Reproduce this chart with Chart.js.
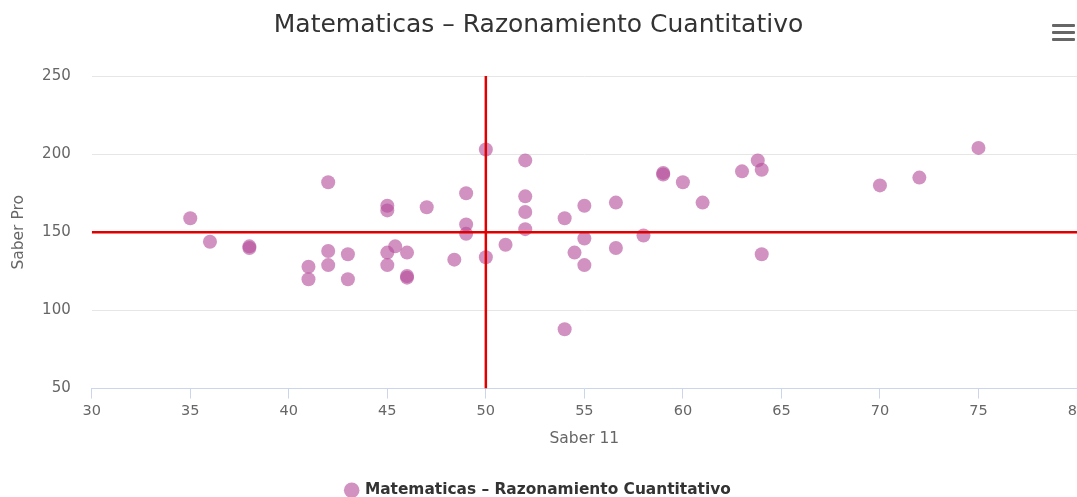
<!DOCTYPE html>
<html>
<head>
<meta charset="utf-8">
<script src="https://cdn.jsdelivr.net/npm/chart.js@4.4.0/dist/chart.umd.min.js"></script>
<style>
  html, body { margin: 0; padding: 0; background: #fff; overflow: hidden; }
  #wrap { position: relative; width: 1077px; height: 497px; overflow: hidden; }
  #menu { position: absolute; left: 1052px; top: 24px; width: 23px; }
  #menu span { display: block; height: 3px; background: #666; margin-bottom: 4px; border-radius: 1px; }
</style>
</head>
<body>
<div id="wrap">
  <canvas id="chart" width="1077" height="508"></canvas>
  <div id="menu"><span></span><span></span><span></span></div>
</div>
<script>
const seriesName = 'Matematicas \u2013 Razonamiento Cuantitativo';
const saber11 = [35, 36, 38, 38, 41, 41, 42, 42, 42, 43, 43, 45, 45, 45, 45.4, 45, 46, 46, 46, 47, 48.4, 49, 49, 49, 50, 50, 51, 52, 52, 52, 52, 54, 54, 55, 55, 54.5, 55, 56.6, 56.6, 58, 59, 59, 60, 61, 63, 63.8, 64, 64, 70, 72, 75];
const saberPro = [159, 144, 141, 140, 128, 120, 182, 138, 129, 136, 120, 167, 164, 137, 141, 129, 137, 122, 121, 166, 132.5, 175, 155, 149, 203, 134, 142, 196, 173, 163, 152, 159, 88, 167, 146, 137, 129, 169, 140, 148, 188, 187, 182, 169, 189, 196, 190, 136, 180, 185, 204];
const refX = 50;
const refY = 150;
const xRange = [30, 80];
const yRange = [50, 250];

const points = saber11.map((x, i) => ({ x: x, y: saberPro[i] }));
const font = "'DejaVu Sans', sans-serif";

const ctx = document.getElementById('chart').getContext('2d');
new Chart(ctx, {
  type: 'scatter',
  data: {
    datasets: [
      {
        label: 'vline',
        data: [{ x: refX, y: yRange[0] }, { x: refX, y: yRange[1] }],
        showLine: true, borderColor: '#e00000', borderWidth: 2.5, pointRadius: 0, order: 0
      },
      {
        label: 'hline',
        data: [{ x: xRange[0], y: refY }, { x: xRange[1], y: refY }],
        showLine: true, borderColor: '#e00000', borderWidth: 2.5, pointRadius: 0, order: 0
      },
      {
        label: seriesName,
        data: points,
        pointRadius: 7,
        pointHoverRadius: 7,
        pointBorderWidth: 0,
        backgroundColor: 'rgba(180, 78, 155, 0.62)',
        borderColor: 'rgba(180, 78, 155, 0.62)',
        order: 1
      }
    ]
  },
  options: {
    responsive: false,
    animation: false,
    layout: { padding: 0, autoPadding: false },
    plugins: {
      title: {
        display: true,
        text: seriesName,
        color: '#333',
        font: { family: font, size: 25, weight: 'normal' },
        padding: { top: 10, bottom: 36 }
      },
      legend: {
        position: 'bottom',
        labels: {
          filter: item => item.text !== 'vline' && item.text !== 'hline',
          usePointStyle: true,
          pointStyle: 'circle',
          boxWidth: 11,
          boxHeight: 11,
          color: '#333',
          font: { family: font, size: 15.4, weight: 'bold' },
          padding: 2
        }
      },
      tooltip: { enabled: false }
    },
    scales: {
      x: {
        type: 'linear',
        min: xRange[0],
        max: xRange[1],
        // last label runs off the right edge, as in the original
        afterFit: s => { s.paddingRight = 0; },
        ticks: { stepSize: 5, color: '#666', font: { family: font, size: 14.5 }, padding: 4 },
        grid: { drawOnChartArea: false, color: '#ccd6eb', tickLength: 10 },
        border: { color: '#ccd6eb', width: 1 },
        title: { display: true, text: 'Saber 11', color: '#666', font: { family: font, size: 15.5 }, padding: { top: 6, bottom: 32 } }
      },
      y: {
        min: yRange[0],
        max: yRange[1],
        ticks: { stepSize: 50, color: '#666', font: { family: font, size: 15 }, padding: 0 },
        grid: { color: '#e6e6e6', drawTicks: true, tickLength: 21, tickColor: 'rgba(0,0,0,0)' },
        border: { display: false },
        title: { display: true, text: 'Saber Pro', color: '#666', font: { family: font, size: 15.5 }, padding: { top: 9.5, bottom: 14 } }
      }
    }
  }
});
</script>
</body>
</html>
